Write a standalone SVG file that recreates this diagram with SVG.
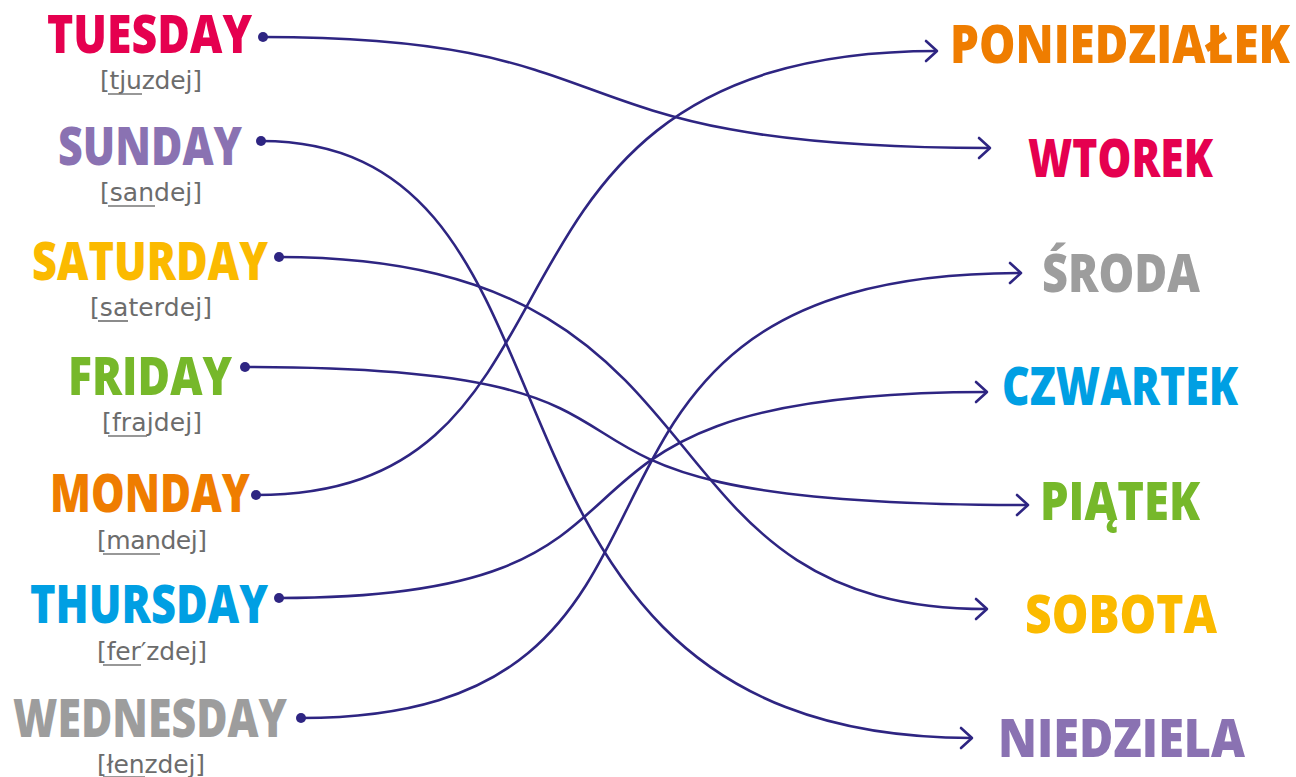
<svg xmlns="http://www.w3.org/2000/svg" width="1296" height="777" viewBox="0 0 1296 777">
<style>
.w{font-family:"Open Sans","DejaVu Sans",sans-serif;font-weight:800;font-size:53px}
.p{font-family:"DejaVu Sans","Liberation Sans",sans-serif;font-size:25px;fill:#6c6c6c}
.u{stroke:#767676;stroke-width:1.7}
.c{fill:none;stroke:#2e2582;stroke-width:2.6;marker-end:url(#arr)}
.d{fill:#2e2582}
</style>
<defs>
<marker id="arr" markerUnits="userSpaceOnUse" markerWidth="24" markerHeight="26" refX="13" refY="12" orient="auto" overflow="visible">
<path d="M2,2 L13,12 L2,22" fill="none" stroke="#2e2582" stroke-width="2.6" stroke-linecap="round" stroke-linejoin="round"/>
</marker>
</defs>
<rect width="1296" height="777" fill="#ffffff"/>
<g id="connectors">
<path class="c" d="M263,37 C650,37 532,148 990,148"/>
<path class="c" d="M261,141 C620,141 428,738 972,738"/>
<path class="c" d="M279,257 C749,257 621,609 987,609"/>
<path class="c" d="M245,367 C770,367 427,505 1028,505"/>
<path class="c" d="M256,495 C619,495 437,51 937,51"/>
<path class="c" d="M279,598 C729,598 472,392 987,392"/>
<path class="c" d="M301,718 C764,718 485,273 1021,273"/>
</g>
<g id="tuesday">
<text class="w" x="47" y="53" fill="#e5004f" textLength="205" lengthAdjust="spacingAndGlyphs">TUESDAY</text>
<text class="p" x="100" y="89" textLength="102" lengthAdjust="spacing">[tjuzdej]</text>
<line class="u" x1="108" y1="94" x2="142" y2="94"/>
<circle class="d" cx="263" cy="37" r="5"/>
</g>
<g id="sunday">
<text class="w" x="58" y="165" fill="#8a72b2" textLength="184" lengthAdjust="spacingAndGlyphs">SUNDAY</text>
<text class="p" x="100" y="201" textLength="102" lengthAdjust="spacing">[sandej]</text>
<line class="u" x1="108" y1="206" x2="155" y2="206"/>
<circle class="d" cx="261" cy="141" r="5"/>
</g>
<g id="saturday">
<text class="w" x="32" y="280" fill="#fbba00" textLength="236" lengthAdjust="spacingAndGlyphs">SATURDAY</text>
<text class="p" x="90" y="316" textLength="122" lengthAdjust="spacing">[saterdej]</text>
<line class="u" x1="98" y1="321" x2="128" y2="321"/>
<circle class="d" cx="279" cy="257" r="5"/>
</g>
<g id="friday">
<text class="w" x="68" y="395" fill="#76b82a" textLength="164" lengthAdjust="spacingAndGlyphs">FRIDAY</text>
<text class="p" x="102" y="431" textLength="100" lengthAdjust="spacing">[frajdej]</text>
<line class="u" x1="108" y1="436" x2="147" y2="436"/>
<circle class="d" cx="245" cy="367" r="5"/>
</g>
<g id="monday">
<text class="w" x="50" y="512" fill="#ef7d00" textLength="200" lengthAdjust="spacingAndGlyphs">MONDAY</text>
<text class="p" x="97" y="549" textLength="110" lengthAdjust="spacing">[mandej]</text>
<line class="u" x1="103" y1="554" x2="160" y2="554"/>
<circle class="d" cx="256" cy="495" r="5"/>
</g>
<g id="thursday">
<text class="w" x="30" y="623" fill="#009fe3" textLength="238" lengthAdjust="spacingAndGlyphs">THURSDAY</text>
<text class="p" x="97" y="660" textLength="110" lengthAdjust="spacing">[fer′zdej]</text>
<line class="u" x1="103" y1="665" x2="141" y2="665"/>
<circle class="d" cx="279" cy="598" r="5"/>
</g>
<g id="wednesday">
<text class="w" x="13" y="737" fill="#9d9d9d" textLength="274" lengthAdjust="spacingAndGlyphs">WEDNESDAY</text>
<text class="p" x="97" y="773" textLength="108" lengthAdjust="spacing">[łenzdej]</text>
<line class="u" x1="103" y1="777" x2="145" y2="777"/>
<circle class="d" cx="301" cy="718" r="5"/>
</g>
<g id="poniedzialek">
<text class="w" x="950" y="63" fill="#ef7d00" textLength="340" lengthAdjust="spacingAndGlyphs">PONIEDZIAŁEK</text>
</g>
<g id="wtorek">
<text class="w" x="1028" y="177" fill="#e5004f" textLength="185" lengthAdjust="spacingAndGlyphs">WTOREK</text>
</g>
<g id="sroda">
<text class="w" x="1042" y="292" fill="#9d9d9d" textLength="158" lengthAdjust="spacingAndGlyphs">ŚRODA</text>
</g>
<g id="czwartek">
<text class="w" x="1002" y="405" fill="#009fe3" textLength="236" lengthAdjust="spacingAndGlyphs">CZWARTEK</text>
</g>
<g id="piatek">
<text class="w" x="1040" y="520" fill="#76b82a" textLength="160" lengthAdjust="spacingAndGlyphs">PIĄTEK</text>
</g>
<g id="sobota">
<text class="w" x="1025" y="633" fill="#fbba00" textLength="192" lengthAdjust="spacingAndGlyphs">SOBOTA</text>
</g>
<g id="niedziela">
<text class="w" x="998" y="757" fill="#8a72b2" textLength="247" lengthAdjust="spacingAndGlyphs">NIEDZIELA</text>
</g>
</svg>
